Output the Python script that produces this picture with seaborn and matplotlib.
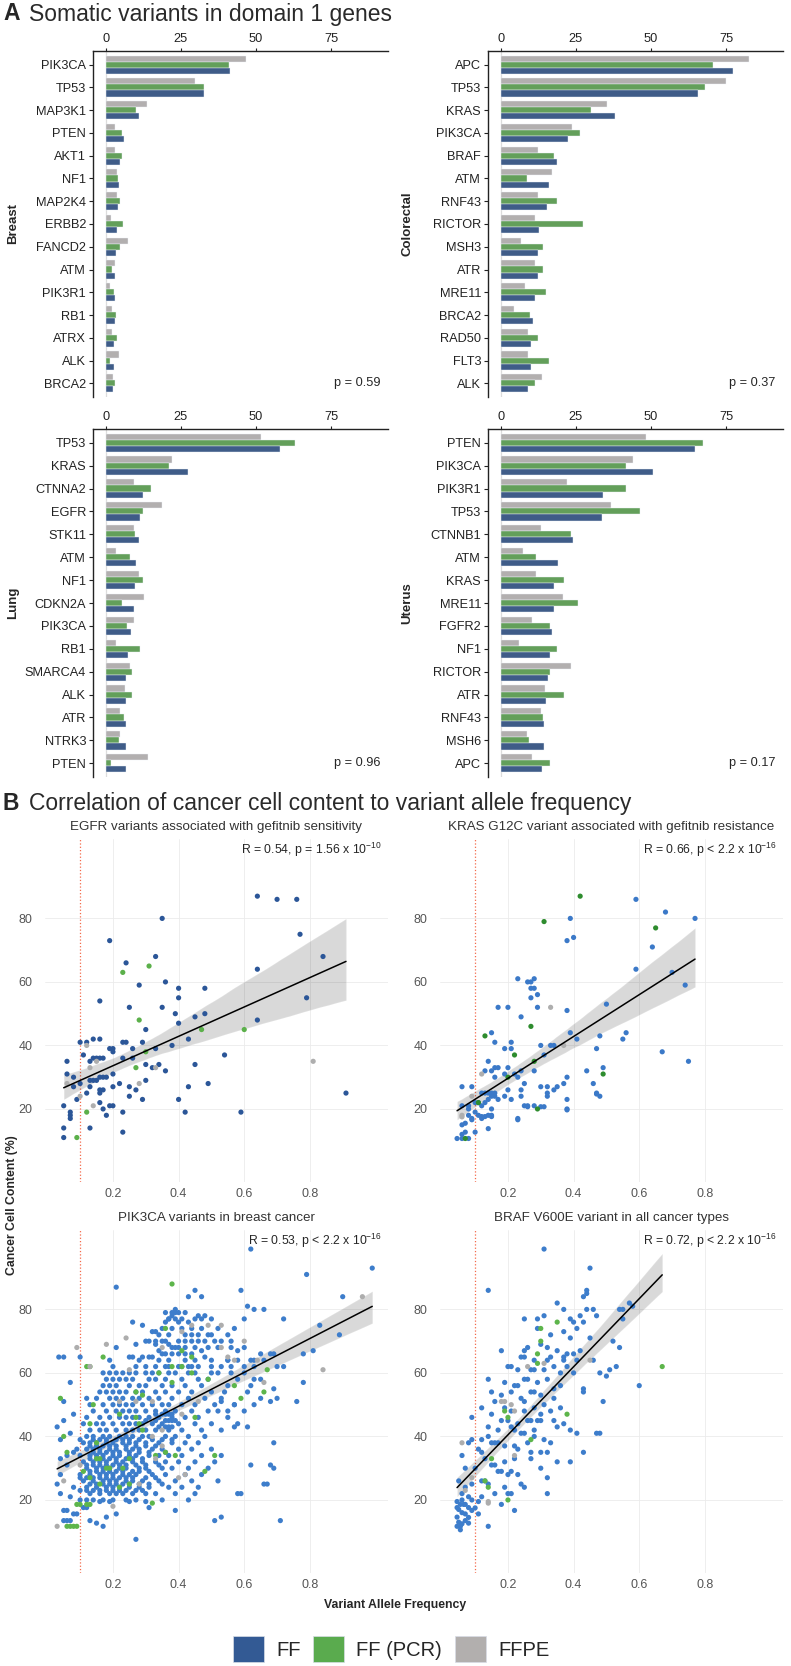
import numpy as np
import pandas as pd
import seaborn as sns
import matplotlib.pyplot as plt
from matplotlib.patches import Patch

sns.set_style('white')
plt.rcParams['font.family'] = ['Liberation Sans', 'DejaVu Sans']
plt.rcParams['mathtext.default'] = 'regular'

# ---------------- panel A data (% of samples with variant) ----------------
breast_genes = ['PIK3CA', 'TP53', 'MAP3K1', 'PTEN', 'AKT1', 'NF1', 'MAP2K4', 'ERBB2',
                'FANCD2', 'ATM', 'PIK3R1', 'RB1', 'ATRX', 'ALK', 'BRCA2']
breast_ff = [41.2, 32.8, 11.0, 6.1, 4.6, 4.3, 4.1, 3.7, 3.3, 3.0, 3.0, 3.0, 2.7, 2.6, 2.3]
breast_pcr = [41.0, 32.8, 9.9, 5.3, 5.3, 3.9, 4.7, 5.7, 4.7, 2.1, 2.6, 3.2, 3.6, 1.4, 2.9]
breast_ffpe = [46.7, 29.6, 13.7, 3.0, 3.0, 3.7, 3.7, 1.8, 7.2, 3.0, 1.2, 1.9, 1.9, 4.2, 2.4]

colorectal_genes = ['APC', 'TP53', 'KRAS', 'PIK3CA', 'BRAF', 'ATM', 'RNF43', 'RICTOR',
                    'MSH3', 'ATR', 'MRE11', 'BRCA2', 'RAD50', 'FLT3', 'ALK']
colorectal_ff = [77.4, 65.6, 38.1, 22.4, 18.7, 15.9, 15.4, 12.8, 12.4, 12.2, 11.4, 10.8, 10.1, 9.9, 9.1]
colorectal_pcr = [70.6, 67.9, 30.0, 26.4, 17.7, 8.8, 18.6, 27.4, 14.1, 14.1, 14.9, 9.7, 12.3, 15.9, 11.4]
colorectal_ffpe = [82.8, 74.9, 35.2, 23.8, 12.4, 17.0, 12.4, 11.3, 6.8, 11.3, 7.9, 4.4, 9.1, 9.1, 13.7]

lung_genes = ['TP53', 'KRAS', 'CTNNA2', 'EGFR', 'STK11', 'ATM', 'NF1', 'CDKN2A', 'PIK3CA',
              'RB1', 'SMARCA4', 'ALK', 'ATR', 'NTRK3', 'PTEN']
lung_ff = [57.9, 27.2, 12.4, 11.2, 11.1, 10.1, 9.8, 9.4, 8.3, 7.4, 6.8, 6.8, 6.7, 6.7, 6.6]
lung_pcr = [63.0, 21.0, 14.9, 12.3, 9.7, 7.9, 12.3, 5.3, 7.0, 11.4, 8.8, 8.8, 6.1, 4.3, 1.7]
lung_ffpe = [51.6, 21.9, 9.4, 18.8, 9.4, 3.2, 10.9, 12.6, 9.4, 3.2, 7.9, 6.3, 4.7, 4.7, 14.1]

uterus_genes = ['PTEN', 'PIK3CA', 'PIK3R1', 'TP53', 'CTNNB1', 'ATM', 'KRAS', 'MRE11', 'FGFR2',
                'NF1', 'RICTOR', 'ATR', 'RNF43', 'MSH6', 'APC']
uterus_ff = [64.7, 50.6, 34.1, 33.6, 23.9, 18.9, 17.7, 17.7, 17.0, 16.4, 15.7, 15.1, 14.4, 14.2, 13.7]
uterus_pcr = [67.3, 41.8, 41.8, 46.4, 23.2, 11.6, 20.9, 25.6, 16.2, 18.6, 16.2, 20.9, 13.9, 9.2, 16.2]
uterus_ffpe = [48.4, 44.0, 22.0, 36.7, 13.2, 7.3, 11.8, 20.6, 10.2, 5.9, 23.4, 14.7, 13.2, 8.8, 10.2]

p_values = {'Breast': 'p = 0.59', 'Colorectal': 'p = 0.37', 'Lung': 'p = 0.96', 'Uterus': 'p = 0.17'}

# ---------------- panel B data (VAF, cancer cell content %) ----------------
egfr_ff = np.array([
    (0.64, 87), (0.70, 86), (0.76, 86), (0.35, 80), (0.77, 75), (0.19, 73), (0.33, 68), (0.84, 68),
    (0.24, 66), (0.64, 64), (0.36, 60), (0.28, 59), (0.40, 58), (0.48, 58), (0.79, 55), (0.40, 55),
    (0.16, 54), (0.25, 52), (0.35, 52), (0.39, 50), (0.48, 50), (0.45, 49), (0.40, 47), (0.64, 48),
    (0.30, 45), (0.43, 42), (0.38, 40), (0.10, 41), (0.12, 41), (0.14, 42), (0.16, 42), (0.19, 39),
    (0.20, 39), (0.20, 38), (0.26, 39), (0.29, 41), (0.23, 41), (0.24, 41), (0.33, 39), (0.54, 37),
    (0.11, 37), (0.06, 35), (0.13, 35), (0.14, 36), (0.15, 36), (0.16, 36), (0.17, 36), (0.23, 36),
    (0.26, 36), (0.30, 34), (0.32, 33), (0.34, 34), (0.36, 32), (0.45, 34), (0.06, 31), (0.08, 30),
    (0.10, 28), (0.13, 29), (0.14, 29), (0.15, 29), (0.16, 30), (0.17, 30), (0.18, 30), (0.13, 27),
    (0.08, 27), (0.20, 31), (0.22, 28), (0.20, 27), (0.25, 27), (0.27, 26), (0.30, 29), (0.43, 27),
    (0.49, 28), (0.16, 26), (0.17, 26), (0.16, 25), (0.12, 25), (0.09, 23), (0.25, 24), (0.29, 23),
    (0.40, 23), (0.16, 22), (0.17, 20), (0.19, 21), (0.20, 21), (0.05, 21), (0.91, 25), (0.23, 19),
    (0.42, 19), (0.59, 19), (0.18, 18), (0.07, 19), (0.07, 18), (0.07, 17), (0.05, 14), (0.05, 11),
    (0.13, 14), (0.23, 12.7),
])
egfr_pcr = np.array([(0.23, 63), (0.31, 65), (0.28, 48), (0.27, 33), (0.47, 45), (0.60, 45),
                     (0.12, 19), (0.09, 11), (0.30, 38)])
egfr_ffpe = np.array([(0.12, 40), (0.13, 33), (0.15, 35), (0.10, 24), (0.14, 21), (0.28, 28),
                      (0.33, 33), (0.81, 35), (0.06, 28)])

kras_ff = np.array([
    (0.59, 86), (0.68, 82), (0.77, 80), (0.39, 80), (0.40, 74), (0.38, 73), (0.64, 71), (0.59, 64),
    (0.70, 63), (0.74, 59), (0.23, 61), (0.26, 60), (0.27, 60), (0.28, 61), (0.27, 58), (0.28, 58),
    (0.29, 56), (0.27, 55), (0.50, 53), (0.17, 52), (0.20, 52), (0.29, 52), (0.38, 51), (0.24, 49),
    (0.39, 44), (0.41, 42), (0.56, 44), (0.55, 42), (0.48, 43), (0.15, 44), (0.16, 41), (0.21, 41),
    (0.21, 39), (0.19, 39), (0.30, 40), (0.33, 40), (0.34, 40), (0.31, 37), (0.47, 39), (0.67, 38),
    (0.75, 35), (0.14, 35), (0.13, 32), (0.15, 32), (0.16, 33), (0.17, 33), (0.20, 33), (0.24, 32),
    (0.28, 32), (0.44, 32), (0.49, 33), (0.19, 31), (0.22, 31), (0.16, 30), (0.23, 30), (0.38, 30),
    (0.46, 28), (0.25, 28), (0.37, 28), (0.30, 27), (0.32, 27), (0.35, 27), (0.34, 26), (0.20, 26),
    (0.24, 26), (0.47, 25), (0.48, 24), (0.32, 25), (0.32, 24), (0.38, 23), (0.06, 27), (0.09, 27),
    (0.12, 25), (0.13, 25), (0.14, 25), (0.15, 25), (0.16, 25), (0.15, 24), (0.16, 24), (0.14, 23),
    (0.17, 23), (0.19, 24), (0.21, 23), (0.24, 24), (0.10, 22), (0.11, 22), (0.13, 22), (0.25, 21),
    (0.26, 21), (0.28, 21), (0.38, 20), (0.12, 21), (0.08, 21), (0.08, 20), (0.06, 21), (0.15, 20),
    (0.10, 19), (0.11, 18), (0.14, 18), (0.15, 18), (0.09, 17), (0.12, 17), (0.23, 17), (0.045, 10.7),
    (0.06, 10.7), (0.08, 10.7), (0.06, 12), (0.07, 12.7), (0.06, 15), (0.07, 15.5), (0.08, 18),
    (0.10, 12.7), (0.09, 16.6), (0.12, 17.6), (0.13, 17.6), (0.15, 17.6), (0.14, 13.8), (0.23, 16.6),
    (0.26, 20.7), (0.30, 20.7), (0.31, 20.7), (0.38, 19.7), (0.47, 24.7),
])
kras_pcr = np.array([(0.42, 87), (0.31, 79), (0.65, 77), (0.27, 46), (0.13, 43), (0.22, 37),
                     (0.28, 35), (0.49, 31), (0.11, 22), (0.29, 20), (0.07, 10.7), (0.20, 30)])
kras_ffpe = np.array([(0.12, 31), (0.33, 52), (0.37, 40), (0.06, 18), (0.09, 24), (0.06, 17.5)])

pik3ca_ff = np.array([
    (0.62, 99), (0.99, 93), (0.79, 91), (0.21, 87), (0.59, 86), (0.45, 86), (0.43, 84), (0.47, 84),
    (0.90, 84), (0.39, 80), (0.39, 79), (0.61, 81), (0.63, 80), (0.66, 80), (0.60, 77), (0.72, 77),
    (0.89, 72), (0.83, 75), (0.46, 78), (0.48, 78), (0.37, 77), (0.38, 78), (0.29, 75), (0.32, 73),
    (0.33, 73), (0.57, 74), (0.49, 72), (0.27, 69), (0.33, 70), (0.33, 69), (0.35, 70), (0.36, 70),
    (0.37, 69), (0.38, 68), (0.39, 68), (0.47, 67), (0.53, 70), (0.58, 67), (0.65, 66), (0.68, 66),
    (0.69, 66), (0.81, 67), (0.78, 66), (0.035, 65), (0.05, 65), (0.10, 65), (0.21, 68), (0.25, 65),
    (0.26, 65), (0.29, 65), (0.31, 65), (0.32, 65), (0.34, 67), (0.35, 66), (0.48, 65), (0.55, 64),
    (0.53, 62), (0.72, 62), (0.70, 62), (0.63, 64), (0.07, 57), (0.05, 51), (0.08, 47), (0.05, 45),
    (0.03, 43), (0.04, 39), (0.07, 41), (0.10, 39), (0.08, 35), (0.06, 34), (0.04, 33), (0.06, 31),
    (0.04, 28), (0.03, 25), (0.04, 22), (0.07, 21), (0.08, 24), (0.10, 27), (0.10, 23), (0.10, 20),
    (0.66, 25), (0.67, 25), (0.58, 22), (0.59, 22), (0.69, 38), (0.69, 30), (0.68, 31), (0.62, 31),
    (0.76, 51), (0.68, 51), (0.69, 55), (0.63, 58), (0.57, 50), (0.61, 43), (0.57, 43), (0.53, 51),
    (0.55, 48), (0.65, 58), (0.78, 57), (0.05, 13.5), (0.06, 13.5), (0.07, 13.5), (0.05, 16.7),
    (0.06, 16.7), (0.08, 15.6), (0.09, 15.6), (0.11, 17.6), (0.12, 17.6), (0.13, 13.5), (0.15, 12.7),
    (0.17, 11.7), (0.18, 14.6), (0.21, 15.6), (0.16, 19.5), (0.19, 19.5), (0.27, 7.6), (0.31, 17.6),
    (0.39, 16.7), (0.51, 13.5), (0.53, 14.6), (0.71, 13.5), (0.25, 19.5), (0.30, 19.5),
])
# dense body of the PIK3CA cloud, read row by row: (ccc, [vaf, ...])
pik3ca_ff_rows = [
    (79, [0.36, 0.38, 0.40, 0.42]),
    (77, [0.37, 0.39, 0.41, 0.45, 0.47, 0.50]),
    (76, [0.26, 0.36, 0.40, 0.43]),
    (74, [0.35, 0.38, 0.41, 0.44, 0.47, 0.52]),
    (72, [0.34, 0.37, 0.42, 0.44, 0.46, 0.50, 0.55]),
    (70, [0.30, 0.31, 0.40, 0.42, 0.44, 0.46, 0.48, 0.51, 0.56]),
    (68, [0.40, 0.42, 0.45, 0.49, 0.52, 0.56, 0.60]),
    (66, [0.36, 0.38, 0.40, 0.42, 0.44]),
    (64, [0.19, 0.28, 0.34, 0.37, 0.42, 0.45, 0.50, 0.55, 0.58, 0.62, 0.66]),
    (62, [0.20, 0.27, 0.30, 0.33, 0.36, 0.37, 0.40, 0.41, 0.43, 0.44, 0.46, 0.50, 0.56, 0.60, 0.63]),
    (60, [0.17, 0.19, 0.21, 0.23, 0.25, 0.27, 0.30, 0.32, 0.34, 0.37, 0.39, 0.43, 0.45, 0.50, 0.52, 0.56, 0.60]),
    (58, [0.18, 0.20, 0.22, 0.24, 0.26, 0.31, 0.33, 0.36, 0.41, 0.46, 0.49, 0.58]),
    (56, [0.17, 0.19, 0.21, 0.25, 0.28, 0.30, 0.35, 0.38, 0.42, 0.47, 0.55, 0.62]),
    (54, [0.16, 0.18, 0.20, 0.22, 0.24, 0.27, 0.29, 0.33, 0.36, 0.40, 0.44, 0.50, 0.54, 0.61]),
    (52, [0.12, 0.15, 0.19, 0.21, 0.23, 0.26, 0.28, 0.31, 0.34, 0.38, 0.43, 0.48, 0.53, 0.65, 0.70]),
    (50, [0.13, 0.17, 0.20, 0.22, 0.24, 0.26, 0.29, 0.32, 0.35, 0.37, 0.41, 0.45, 0.51, 0.57, 0.63]),
    (48, [0.14, 0.18, 0.21, 0.23, 0.25, 0.27, 0.30, 0.33, 0.36, 0.39, 0.44, 0.49, 0.52, 0.60]),
    (47, [0.33, 0.35, 0.36, 0.37, 0.38]),
    (46, [0.12, 0.16, 0.19, 0.22, 0.24, 0.26, 0.28, 0.31, 0.34, 0.38, 0.42, 0.46, 0.55]),
    (45, [0.30, 0.33, 0.36, 0.37, 0.38, 0.39]),
    (44, [0.11, 0.15, 0.17, 0.20, 0.23, 0.25, 0.27, 0.29, 0.32, 0.35, 0.40, 0.45, 0.50, 0.58]),
    (43, [0.34, 0.36, 0.37, 0.38]),
    (42, [0.13, 0.16, 0.18, 0.21, 0.24, 0.26, 0.28, 0.30, 0.33, 0.37, 0.41, 0.47, 0.53]),
    (40, [0.12, 0.14, 0.17, 0.19, 0.22, 0.24, 0.26, 0.29, 0.31, 0.36, 0.39, 0.43, 0.48]),
    (39, [0.14, 0.16, 0.18, 0.21, 0.23, 0.25, 0.28, 0.32, 0.35, 0.38]),
    (38, [0.11, 0.13, 0.15, 0.18, 0.20, 0.23, 0.25, 0.27, 0.30, 0.34, 0.38, 0.42, 0.46]),
    (37, [0.13, 0.15, 0.17, 0.19, 0.21, 0.24, 0.27, 0.30, 0.33]),
    (36, [0.09, 0.12, 0.14, 0.16, 0.19, 0.21, 0.24, 0.26, 0.28, 0.32, 0.35, 0.40, 0.44, 0.50]),
    (35, [0.14, 0.16, 0.18, 0.20, 0.22, 0.25, 0.28, 0.31, 0.36]),
    (34, [0.10, 0.13, 0.15, 0.17, 0.20, 0.22, 0.25, 0.27, 0.31, 0.34, 0.37, 0.41, 0.47, 0.53]),
    (33, [0.13, 0.15, 0.17, 0.19, 0.21, 0.24, 0.26, 0.29]),
    (32, [0.11, 0.14, 0.16, 0.18, 0.21, 0.23, 0.26, 0.29, 0.33, 0.36, 0.40, 0.45, 0.51]),
    (31, [0.12, 0.14, 0.16, 0.18, 0.20, 0.22, 0.24, 0.27, 0.30, 0.34]),
    (30, [0.12, 0.15, 0.17, 0.19, 0.22, 0.24, 0.28, 0.30, 0.35, 0.38, 0.43, 0.49]),
    (29, [0.13, 0.15, 0.17, 0.19, 0.21, 0.23, 0.26, 0.28, 0.31]),
    (28, [0.10, 0.13, 0.16, 0.18, 0.20, 0.23, 0.25, 0.27, 0.32, 0.36, 0.42, 0.47]),
    (27, [0.12, 0.14, 0.16, 0.18, 0.20, 0.22, 0.24, 0.26, 0.30, 0.33]),
    (26, [0.11, 0.14, 0.17, 0.19, 0.21, 0.24, 0.26, 0.29, 0.34, 0.39, 0.44, 0.52]),
    (25, [0.13, 0.15, 0.17, 0.19, 0.21, 0.23, 0.25, 0.28, 0.31, 0.35]),
    (24, [0.12, 0.15, 0.18, 0.20, 0.22, 0.25, 0.28, 0.31, 0.37, 0.41, 0.46]),
    (23, [0.12, 0.14, 0.16, 0.18, 0.20, 0.22, 0.24, 0.27, 0.29]),
    (22, [0.13, 0.16, 0.19, 0.21, 0.23, 0.26, 0.30, 0.33, 0.39, 0.45]),
    (20, [0.12, 0.14, 0.17, 0.20, 0.24, 0.27, 0.35, 0.43]),
]
pik3ca_pcr = np.array([
    (0.38, 88), (0.36, 74), (0.41, 67), (0.44, 65), (0.38, 62), (0.44, 60), (0.34, 60), (0.38, 57),
    (0.49, 58), (0.57, 56), (0.59, 52), (0.66, 54), (0.67, 61), (0.17, 65), (0.12, 62), (0.13, 62),
    (0.04, 52), (0.05, 40), (0.06, 35), (0.14, 50), (0.13, 44), (0.15, 38), (0.15, 33), (0.16, 33),
    (0.18, 30), (0.19, 30), (0.11, 29), (0.13, 27), (0.16, 25), (0.22, 24), (0.25, 25), (0.23, 30),
    (0.25, 33), (0.27, 46), (0.28, 44), (0.29, 42), (0.27, 54), (0.29, 53), (0.22, 47), (0.33, 34),
    (0.36, 35), (0.39, 34), (0.45, 46), (0.48, 29), (0.51, 34), (0.32, 19), (0.41, 62),
    (0.06, 11.7), (0.07, 11.7), (0.08, 11.7), (0.09, 11.7), (0.09, 18.6), (0.10, 18.6),
    (0.12, 18.6), (0.13, 18.6),
])
pik3ca_ffpe = np.array([
    (0.09, 68), (0.24, 71), (0.18, 69), (0.13, 62), (0.25, 61), (0.35, 68), (0.41, 73), (0.44, 75),
    (0.49, 75), (0.53, 75), (0.53, 68), (0.60, 70), (0.55, 65), (0.57, 64), (0.64, 64), (0.66, 57),
    (0.84, 61), (0.96, 84), (0.22, 51), (0.27, 51), (0.32, 51), (0.46, 51), (0.35, 42), (0.32, 40),
    (0.41, 47), (0.40, 27), (0.42, 28), (0.28, 25), (0.20, 18), (0.05, 26), (0.10, 31), (0.33, 33),
    (0.35, 37), (0.03, 11.7),
])

braf_ff = np.array([
    (0.31, 99), (0.45, 93), (0.14, 86), (0.44, 86), (0.44, 85), (0.43, 84), (0.35, 82), (0.37, 80),
    (0.44, 80), (0.46, 80), (0.31, 78), (0.25, 77), (0.29, 77), (0.39, 77), (0.40, 76), (0.42, 78),
    (0.43, 76), (0.47, 78), (0.54, 80), (0.55, 80), (0.55, 77), (0.41, 74), (0.37, 73), (0.29, 74),
    (0.33, 72), (0.45, 71), (0.39, 71), (0.30, 69), (0.26, 68), (0.25, 67), (0.32, 68), (0.35, 67),
    (0.38, 66), (0.42, 67), (0.54, 68), (0.18, 67), (0.24, 65), (0.25, 65), (0.28, 64), (0.32, 64),
    (0.33, 65), (0.37, 65), (0.37, 64), (0.41, 64), (0.46, 64), (0.20, 62), (0.21, 62), (0.23, 61),
    (0.27, 61), (0.28, 61), (0.31, 61), (0.34, 62), (0.40, 60), (0.48, 60), (0.50, 59), (0.51, 61),
    (0.60, 56), (0.14, 58), (0.19, 57), (0.22, 56), (0.23, 56), (0.25, 58), (0.26, 58), (0.29, 57),
    (0.32, 58), (0.36, 56), (0.43, 55), (0.43, 54), (0.15, 54), (0.18, 53), (0.21, 54), (0.24, 52),
    (0.25, 51), (0.27, 54), (0.28, 54), (0.30, 53), (0.34, 52), (0.16, 51), (0.12, 49), (0.19, 49),
    (0.21, 48), (0.25, 48), (0.28, 49), (0.30, 47), (0.33, 48), (0.36, 49), (0.09, 46), (0.15, 47),
    (0.18, 45), (0.20, 45), (0.23, 44), (0.26, 45), (0.27, 45), (0.29, 45), (0.30, 45), (0.34, 45),
    (0.37, 44), (0.35, 43), (0.39, 42), (0.41, 41), (0.48, 41), (0.14, 43), (0.17, 42), (0.21, 43),
    (0.22, 42), (0.24, 41), (0.25, 41), (0.28, 40), (0.31, 39), (0.33, 38), (0.12, 39), (0.15, 38),
    (0.16, 38), (0.17, 38), (0.19, 37), (0.22, 37), (0.23, 36), (0.27, 35), (0.27, 33), (0.30, 35),
    (0.32, 35), (0.35, 32), (0.39, 32), (0.43, 35), (0.06, 34), (0.07, 30), (0.11, 36), (0.13, 33),
    (0.15, 31), (0.16, 31), (0.17, 29), (0.18, 29), (0.20, 28), (0.21, 29), (0.23, 28), (0.30, 30),
    (0.32, 27), (0.24, 25), (0.25, 24), (0.19, 24), (0.12, 26), (0.13, 26), (0.14, 25), (0.16, 22),
    (0.20, 22), (0.21, 22), (0.32, 22), (0.08, 21), (0.09, 25), (0.08, 38), (0.09, 39), (0.47, 41),
    (0.045, 17.6), (0.055, 18.6), (0.065, 18.6), (0.07, 18.6), (0.08, 17.6), (0.045, 14.6),
    (0.055, 11.7), (0.045, 11.7), (0.055, 10.6), (0.07, 13.5), (0.08, 12.7), (0.09, 16.7),
    (0.11, 15.6), (0.14, 11.7), (0.11, 19.5), (0.18, 18.6), (0.22, 16.7), (0.10, 30), (0.12, 35),
    (0.14, 40), (0.19, 32), (0.22, 33), (0.26, 38), (0.28, 42), (0.31, 50), (0.34, 55), (0.36, 60),
    (0.38, 62), (0.40, 66), (0.52, 70), (0.57, 82), (0.58, 81), (0.53, 62), (0.49, 51),
    (0.045, 19.5), (0.05, 17), (0.06, 16), (0.07, 15.6), (0.05, 13), (0.06, 12.5), (0.08, 14.5),
    (0.06, 22), (0.07, 24), (0.05, 26), (0.06, 20), (0.09, 20), (0.10, 17.5), (0.12, 21),
])
braf_pcr = np.array([(0.30, 74), (0.30, 70), (0.35, 76), (0.29, 66), (0.29, 63), (0.20, 46),
                     (0.19, 48), (0.27, 39), (0.38, 47), (0.15, 33), (0.13, 26), (0.14, 24),
                     (0.20, 20), (0.67, 62)])
braf_ffpe = np.array([(0.06, 38), (0.18, 51), (0.19, 51), (0.21, 50), (0.22, 48), (0.26, 62),
                      (0.31, 63), (0.45, 64), (0.22, 34), (0.07, 23), (0.14, 19), (0.09, 27),
                      (0.14, 19.5)])

scatter_titles = ['EGFR variants associated with gefitnib sensitivity',
                  'KRAS G12C variant associated with gefitnib resistance',
                  'PIK3CA variants in breast cancer',
                  'BRAF V600E variant in all cancer types']
scatter_stats = ['R = 0.54, p = 1.56 x 10$^{-10}$', 'R = 0.66, p < 2.2 x 10$^{-16}$',
                 'R = 0.53, p < 2.2 x 10$^{-16}$', 'R = 0.72, p < 2.2 x 10$^{-16}$']

BAR_COLORS = {'FF': '#335A94', 'FF (PCR)': '#5AAB4E', 'FFPE': '#B2AFAE'}

W, H = 791, 1666
fig = plt.figure(figsize=(W / 100, H / 100), dpi=100)


def rect(l, t, r, b):
    return [l / W, 1 - b / H, (r - l) / W, (b - t) / H]


def bar_panel(box, tissue, genes, ff, pcr, ffpe):
    ax = fig.add_axes(rect(*box))
    n = len(genes)
    df = pd.DataFrame({'gene': genes * 3,
                       'pct': ffpe + pcr + ff,
                       'sample': ['FFPE'] * n + ['FF (PCR)'] * n + ['FF'] * n})
    ax.axvline(0, color='#DCDCDC', lw=0.9, zorder=0)
    sns.barplot(data=df, x='pct', y='gene', hue='sample', order=genes,
                hue_order=['FFPE', 'FF (PCR)', 'FF'], palette=BAR_COLORS, width=0.8,
                edgecolor='#EEF2F8', linewidth=0.3, legend=False, ax=ax)
    ax.set_xlim(-4.33, 94)
    ax.set_ylim(n - 0.4, -0.6)
    ax.xaxis.tick_top()
    ax.set_xticks([0, 25, 50, 75])
    ax.tick_params(axis='x', length=2.5, width=0.8, pad=1.5, labelsize=9.2, colors='#222222')
    ax.tick_params(axis='y', length=3, width=0.8, pad=2, labelsize=9.2, colors='#222222', left=True)
    for s in ['right', 'bottom']:
        ax.spines[s].set_visible(False)
    for s in ['left', 'top']:
        ax.spines[s].set_color('#222222')
        ax.spines[s].set_linewidth(1.0)
    ax.set_xlabel('')
    ax.set_ylabel(tissue, fontsize=9.5, fontweight='bold')
    ax.yaxis.set_label_coords(-0.252, 0.5)
    ax.text(91.5, n - 1, p_values[tissue], ha='right', va='center', fontsize=9.2)


bar_panel((93, 51, 388, 397), 'Breast', breast_genes, breast_ff, breast_pcr, breast_ffpe)
bar_panel((488, 51, 783, 397), 'Colorectal', colorectal_genes, colorectal_ff, colorectal_pcr, colorectal_ffpe)
bar_panel((93, 429, 388, 777), 'Lung', lung_genes, lung_ff, lung_pcr, lung_ffpe)
bar_panel((488, 429, 783, 777), 'Uterus', uterus_genes, uterus_ff, uterus_pcr, uterus_ffpe)


def scatter_panel(box, title, stat, ff, pcr, ffpe, palette):
    ax = fig.add_axes(rect(*box))
    df = pd.concat([
        pd.DataFrame({'vaf': ff[:, 0], 'ccc': ff[:, 1], 'sample': 'FF'}),
        pd.DataFrame({'vaf': pcr[:, 0], 'ccc': pcr[:, 1], 'sample': 'FF (PCR)'}),
        pd.DataFrame({'vaf': ffpe[:, 0], 'ccc': ffpe[:, 1], 'sample': 'FFPE'}),
    ], ignore_index=True)
    ax.grid(True, color='#EBEBEB', lw=0.6)
    ax.axvline(0.1, color='#F4694A', ls=':', lw=0.9, zorder=1)
    sns.scatterplot(data=df, x='vaf', y='ccc', hue='sample', palette=palette, s=14,
                    linewidth=0, legend=False, ax=ax, zorder=2)
    sns.regplot(data=df, x='vaf', y='ccc', scatter=False, color='black', ci=95, seed=3,
                truncate=True, line_kws={'lw': 1.1}, ax=ax)
    ax.set_xlim(-0.007, 1.038)
    ax.set_ylim(-3, 105)
    ax.set_xticks([0.2, 0.4, 0.6, 0.8])
    ax.set_xticklabels(['0.2', '0.4', '0.6', '0.8'])
    ax.set_yticks([20, 40, 60, 80])
    ax.tick_params(length=0, labelsize=9, colors='#555555')
    ax.tick_params(axis='y', pad=9)
    ax.tick_params(axis='x', pad=4)
    for s in ax.spines.values():
        s.set_visible(False)
    ax.set_xlabel('')
    ax.set_ylabel('')
    ax.text(0.5, 1.035, title, transform=ax.transAxes, ha='center', va='center',
            fontsize=9.6, color='#333333')
    ax.text(0.983, 0.968, stat, transform=ax.transAxes, ha='right', va='center', fontsize=8.8)


scatter_panel((45, 839, 388, 1182), scatter_titles[0], scatter_stats[0], egfr_ff, egfr_pcr, egfr_ffpe,
              {'FF': '#2B5698', 'FF (PCR)': '#5BB04A', 'FFPE': '#AEAEAE'})
scatter_panel((440, 839, 783, 1182), scatter_titles[1], scatter_stats[1], kras_ff, kras_pcr, kras_ffpe,
              {'FF': '#3B79C8', 'FF (PCR)': '#2E8C2E', 'FFPE': '#AEAEAE'})

pik3ca_rows = np.array([(x, y) for y, xs in pik3ca_ff_rows for x in xs])
scatter_panel((45, 1230, 388, 1573), scatter_titles[2], scatter_stats[2],
              np.vstack([pik3ca_ff, pik3ca_rows]), pik3ca_pcr, pik3ca_ffpe,
              {'FF': '#3D7DCB', 'FF (PCR)': '#5DB54B', 'FFPE': '#ADADAD'})
scatter_panel((440, 1230, 783, 1573), scatter_titles[3], scatter_stats[3], braf_ff, braf_pcr, braf_ffpe,
              {'FF': '#3D7DCB', 'FF (PCR)': '#5DB54B', 'FFPE': '#ADADAD'})

# section titles and shared labels
fig.text(3 / W, 1 - 14 / H, 'A', fontsize=16.5, fontweight='bold', va='center')
fig.text(29 / W, 1 - 14 / H, 'Somatic variants in domain 1 genes', fontsize=16.5, va='center', color='#2A2A2A')
fig.text(3 / W, 1 - 804 / H, 'B', fontsize=16.5, fontweight='bold', va='center')
fig.text(29 / W, 1 - 804 / H, 'Correlation of cancer cell content to variant allele frequency',
         fontsize=16.5, va='center', color='#2A2A2A')
fig.text(12 / W, 1 - 1205 / H, 'Cancer Cell Content (%)', rotation=90, fontsize=8.8,
         fontweight='bold', ha='center', va='center')
fig.text(395 / W, 1 - 1605 / H, 'Variant Allele Frequency', fontsize=8.8, fontweight='bold',
         ha='center', va='center')

handles = [Patch(facecolor=BAR_COLORS[k], edgecolor='#D8DDE6', lw=0.5) for k in ['FF', 'FF (PCR)', 'FFPE']]
fig.legend(handles, ['FF', 'FF (PCR)', 'FFPE'], loc='center', bbox_to_anchor=(391 / W, 1 - 1649 / H),
           ncol=3, frameon=False, fontsize=14.5, handlelength=1.54, handleheight=1.54,
           handletextpad=0.62, columnspacing=0.62)

fig.savefig('out.png', dpi=100)
